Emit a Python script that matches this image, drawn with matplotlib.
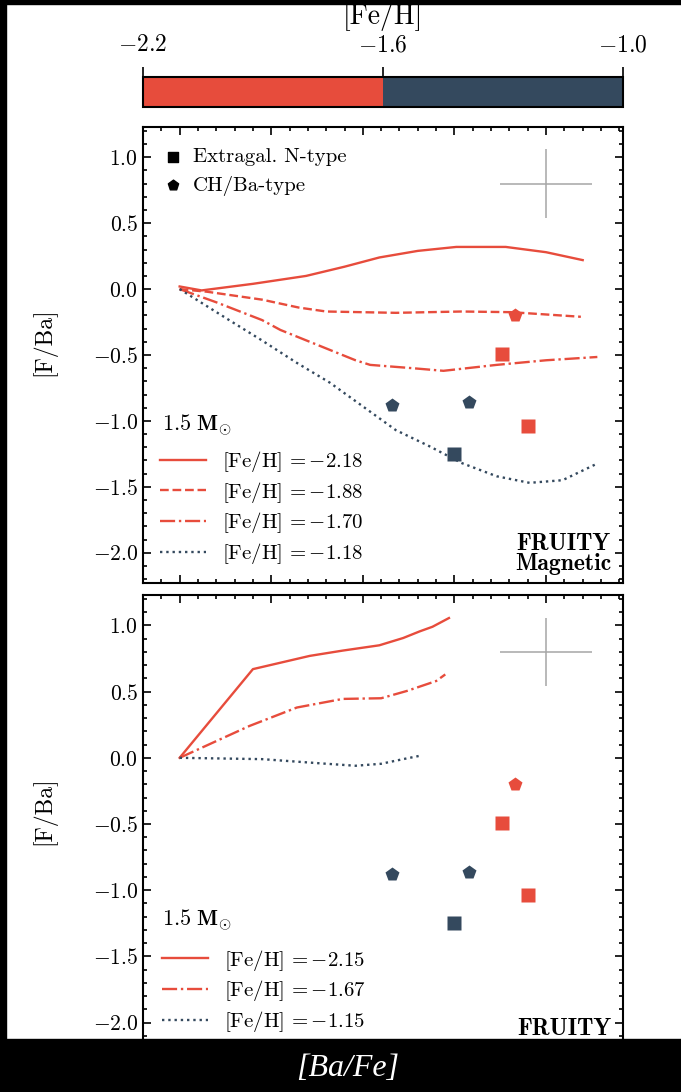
import numpy as np
import matplotlib.pyplot as plt
from matplotlib.colors import ListedColormap, BoundaryNorm
from matplotlib.cm import ScalarMappable
from matplotlib.patches import Rectangle
from matplotlib.ticker import MultipleLocator

plt.rcParams['font.family'] = 'serif'
plt.rcParams['font.serif'] = ['cmr10']
plt.rcParams['mathtext.fontset'] = 'cm'
plt.rcParams['axes.formatter.use_mathtext'] = True

# colour bins in [Fe/H]
feh_bounds = [-2.2, -1.6, -1.0]
bin_colors = ['#e74c3c', '#34495e']

# FRUITY Magnetic tracks (top panel)
mag_feh = [-2.18, -1.88, -1.70, -1.18]
mag_ba_218 = [0.0, 0.12, 0.40, 0.69, 0.90, 1.09, 1.30, 1.51, 1.78, 2.00, 2.20]
mag_fba_218 = [0.02, -0.01, 0.04, 0.10, 0.17, 0.24, 0.29, 0.32, 0.32, 0.28, 0.22]
mag_ba_188 = [0.0, 0.15, 0.45, 0.65, 0.80, 1.18, 1.54, 1.81, 2.19]
mag_fba_188 = [0.0, -0.02, -0.08, -0.14, -0.17, -0.18, -0.17, -0.175, -0.21]
mag_ba_170 = [0.0, 0.20, 0.45, 0.55, 0.96, 1.04, 1.27, 1.44, 1.73, 2.00, 2.28]
mag_fba_170 = [0.0, -0.10, -0.235, -0.31, -0.54, -0.575, -0.60, -0.62, -0.575, -0.54, -0.515]
mag_ba_118 = [0.0, 0.27, 0.45, 0.64, 0.82, 1.00, 1.18, 1.36, 1.54, 1.73, 1.91, 2.09, 2.27]
mag_fba_118 = [0.0, -0.235, -0.39, -0.56, -0.71, -0.89, -1.07, -1.19, -1.32, -1.42, -1.47, -1.45, -1.33]

# FRUITY tracks (bottom panel)
std_feh = [-2.15, -1.67, -1.15]
std_ba_215 = [0.0, 0.40, 0.71, 0.89, 1.09, 1.22, 1.31, 1.38, 1.47]
std_fba_215 = [0.0, 0.67, 0.77, 0.81, 0.85, 0.905, 0.955, 0.99, 1.056]
std_ba_167 = [0.0, 0.38, 0.64, 0.89, 1.10, 1.24, 1.40, 1.45]
std_fba_167 = [0.0, 0.24, 0.38, 0.445, 0.45, 0.505, 0.58, 0.63]
std_ba_115 = [0.0, 0.45, 0.75, 0.96, 1.10, 1.22, 1.31]
std_fba_115 = [0.0, -0.01, -0.04, -0.06, -0.045, -0.01, 0.015]

# observed stars
obs_ba = [1.50, 1.76, 1.90, 1.16, 1.58, 1.83]
obs_fba = [-1.25, -0.49, -1.04, -0.88, -0.86, -0.20]
obs_feh = [-1.3, -1.9, -1.9, -1.3, -1.3, -1.9]
obs_type = ['N', 'N', 'N', 'CH', 'CH', 'CH']

# typical uncertainty
err_ba, err_fba = 2.0, 0.80
err_dba, err_dfba = 0.25, 0.26

cmap = ListedColormap(bin_colors)
norm = BoundaryNorm(feh_bounds, cmap.N)

W, H = 681, 1092
fig = plt.figure(figsize=(W / 100, H / 100), dpi=100)
fig.patch.set_facecolor('white')


def fx(px):
    return px / W


def fy(py):
    return 1 - py / H


cax = fig.add_axes([fx(143), fy(107), fx(623) - fx(143), fy(77) - fy(107)])
ax1 = fig.add_axes([fx(143), fy(583), fx(623) - fx(143), fy(127) - fy(583)])
ax2 = fig.add_axes([fx(143), fy(1053), fx(623) - fx(143), fy(595) - fy(1053)])

cb = fig.colorbar(ScalarMappable(norm=norm, cmap=cmap), cax=cax,
                  orientation='horizontal', ticklocation='top')
cb.set_ticks(feh_bounds)
cb.set_label('[Fe/H]', fontsize=20, labelpad=7)
cb.outline.set_linewidth(1.5)
cax.tick_params(direction='out', length=7, width=1.2, labelsize=17, pad=8)
cax.minorticks_off()


def style_axes(ax):
    ax.set_xlim(-0.2, 2.42)
    ax.set_ylim(-2.23, 1.23)
    ax.xaxis.set_major_locator(MultipleLocator(0.5))
    ax.xaxis.set_minor_locator(MultipleLocator(0.1))
    ax.yaxis.set_major_locator(MultipleLocator(0.5))
    ax.yaxis.set_minor_locator(MultipleLocator(0.1))
    ax.tick_params(which='both', direction='in', top=True, right=True,
                   labelbottom=False, width=1.2)
    ax.tick_params(which='major', length=6, labelsize=15.5)
    ax.tick_params(which='minor', length=3)
    for s in ax.spines.values():
        s.set_linewidth(1.5)
    ax.set_ylabel('[F/Ba]', fontsize=17)
    ax.yaxis.set_label_coords(-0.18, 0.53)


def draw_obs(ax):
    for t, mk, ms in [('N', 's', 10), ('CH', 'p', 10)]:
        for i, v in enumerate(obs_type):
            if v != t:
                continue
            ax.plot(obs_ba[i], obs_fba[i], ls='none', marker=mk, ms=ms,
                    color=cmap(norm(obs_feh[i])), mec='none', zorder=4)
    ax.errorbar(err_ba, err_fba, xerr=err_dba, yerr=err_dfba, fmt='none',
                ecolor='#a6a6a6', elinewidth=1.1, capsize=0)


def track_label(feh):
    return r'$\mathrm{[Fe/H]}\,=%.2f$' % feh


mass_title = r'$\mathbf{1.5\ M}_{\odot}$'

# top panel: FRUITY Magnetic
style_axes(ax1)
tracks1 = [(mag_ba_218, mag_fba_218, '-'), (mag_ba_188, mag_fba_188, '--'),
           (mag_ba_170, mag_fba_170, '-.'), (mag_ba_118, mag_fba_118, ':')]
for feh, (x, y, ls) in zip(mag_feh, tracks1):
    ax1.plot(x, y, ls=ls, lw=1.7, color=cmap(norm(feh)), label=track_label(feh))
lines1 = ax1.get_lines()[:4]
draw_obs(ax1)

h_n = ax1.scatter([], [], marker='s', color='k', s=55, label='Extragal. N-type')
h_ch = ax1.scatter([], [], marker='p', color='k', s=60, label='CH/Ba-type')
leg_obs = ax1.legend(handles=[h_n, h_ch], loc='upper left', frameon=False,
                     fontsize=15, handletextpad=0.5, labelspacing=0.45,
                     borderaxespad=0.6, handlelength=0.9)
ax1.add_artist(leg_obs)
ax1.legend(handles=lines1, loc='lower left', frameon=False, fontsize=15,
           handlelength=2.2, handletextpad=0.8,
           labelspacing=0.28, borderaxespad=0.4)
ax1.text(0.04, 0.3465, mass_title, transform=ax1.transAxes, ha='left',
         va='center', fontsize=16)
ax1.text(0.975, 0.018, 'FRUITY\nMagnetic', transform=ax1.transAxes, ha='right',
         va='bottom', multialignment='center', fontsize=17, family='cmb10',
         linespacing=0.85)

# bottom panel: FRUITY
style_axes(ax2)
tracks2 = [(std_ba_215, std_fba_215, '-'), (std_ba_167, std_fba_167, '-.'),
           (std_ba_115, std_fba_115, ':')]
for feh, (x, y, ls) in zip(std_feh, tracks2):
    ax2.plot(x, y, ls=ls, lw=1.7, color=cmap(norm(feh)), label=track_label(feh))
lines2 = ax2.get_lines()[:3]
draw_obs(ax2)
ax2.legend(handles=lines2, loc='lower left', frameon=False, fontsize=15,
           handlelength=2.2, handletextpad=0.8,
           labelspacing=0.28, borderaxespad=0.5)
ax2.text(0.04, 0.29, mass_title, transform=ax2.transAxes, ha='left',
         va='center', fontsize=16)
ax2.text(0.975, 0.028, 'FRUITY', transform=ax2.transAxes, ha='right',
         va='bottom', fontsize=17, family='cmb10')

# screenshot border and caption band
for (x0, y0, w, h) in [(0, 0, 6, H), (0, 0, W, 4), (0, 1039, W, H - 1039)]:
    fig.add_artist(Rectangle((fx(x0), fy(y0 + h)), fx(w), h / H,
                             transform=fig.transFigure, color='black', zorder=20))
fig.text(fx(348), fy(1068), '[Ba/Fe]', color='white', fontsize=23,
         family='Liberation Serif', style='italic', ha='center', va='center',
         zorder=21)

fig.savefig('out.png', dpi=100)
